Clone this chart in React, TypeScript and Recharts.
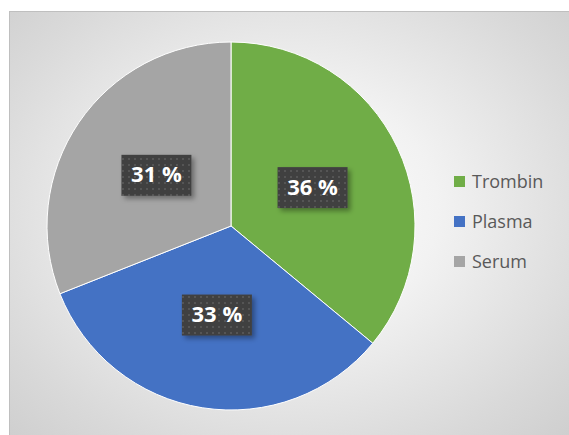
import { PieChart, Pie, Cell, Legend } from "recharts"

const names = ["Trombin", "Plasma", "Serum"]
const shares = [36, 33, 31]
const colors = ["#70AD47", "#4472C4", "#A5A5A5"]

const data = names.map((name, i) => ({ name, value: shares[i] }))

const RAD = Math.PI / 180

const renderLabel = (p: any) => {
  const { cx, cy, midAngle, outerRadius, value } = p
  const r = outerRadius * 0.49
  const x = cx + r * Math.cos(-midAngle * RAD)
  const y = cy + r * Math.sin(-midAngle * RAD)
  const w = 70
  const h = 41
  return (
    <g>
      <rect x={x - w / 2} y={y - h / 2} width={w} height={h} fill="url(#dotPat)" filter="url(#lblShadow)" />
      <text x={x} y={y + 1} fill="#fff" fontSize={22} fontWeight={700} textAnchor="middle" dominantBaseline="middle"
        fontFamily="'Open Sans', sans-serif">
        {`${value} %`}
      </text>
    </g>
  )
}

const renderLegend = () => (
  <div style={{ fontFamily: "'Open Sans', sans-serif", fontSize: 18, color: "#595959" }}>
    {data.map((d, i) => (
      <div key={d.name} style={{ display: "flex", alignItems: "center", height: 40 }}>
        <span style={{ display: "inline-block", width: 11, height: 11, background: colors[i], marginRight: 7 }} />
        <span>{d.name}</span>
      </div>
    ))}
  </div>
)

export default function App() {
  return (
    <div style={{ position: "fixed", left: 0, top: 0, width: 569, height: 435, background: "#fff", overflow: "hidden" }}>
      <div
        style={{
          position: "absolute", left: 9, top: 11, width: 580, height: 440,
          border: "1px solid #bfbfbf",
          background: "radial-gradient(ellipse at 48% 45%, #ffffff 0%, #f2f2f2 35%, #d9d9d9 75%, #cbcbcb 100%)",
        }}
      />
      <div style={{ position: "absolute", left: 0, top: 0 }}>
        <PieChart width={569} height={435} margin={{ top: 0, right: 0, bottom: 0, left: 0 }}>
          <defs>
            <pattern id="dotPat" width="6" height="6" patternUnits="userSpaceOnUse">
              <rect width="6" height="6" fill="#404040" />
              <circle cx="3" cy="3" r="1" fill="#5a5a5a" />
            </pattern>
            <filter id="lblShadow" x="-20%" y="-20%" width="150%" height="160%">
              <feDropShadow dx="3" dy="3" stdDeviation="2.5" floodColor="#000" floodOpacity="0.35" />
            </filter>
          </defs>
          <Pie
            data={data}
            dataKey="value"
            nameKey="name"
            cx={231}
            cy={226}
            outerRadius={184}
            startAngle={90}
            endAngle={-270}
            stroke="#ffffff"
            strokeWidth={1}
            label={renderLabel}
            labelLine={false}
            isAnimationActive={false}
          >
            {data.map((d, i) => (
              <Cell key={d.name} fill={colors[i]} />
            ))}
          </Pie>
          <Legend
            content={renderLegend}
            layout="vertical"
            wrapperStyle={{ position: "absolute", left: 454, top: 161, width: 110 }}
          />
        </PieChart>
      </div>
    </div>
  )
}
